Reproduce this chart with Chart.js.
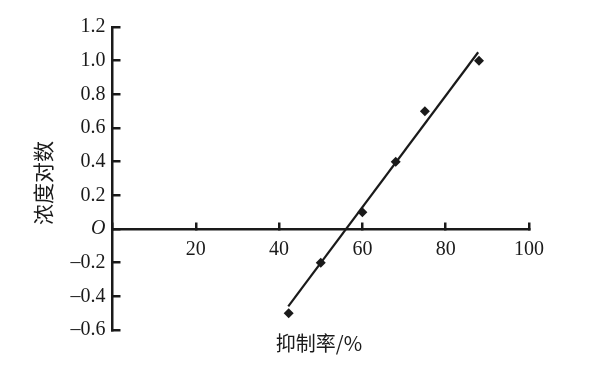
<!DOCTYPE html>
<html>
<head>
<meta charset="utf-8">
<script src="https://cdn.jsdelivr.net/npm/chart.js@4"></script>
<style>
  html, body { margin: 0; padding: 0; background: #fff; }
  #wrap { width: 601px; height: 383px; }
</style>
</head>
<body>
<div id="wrap"><canvas id="canvas" width="601" height="383"></canvas></div>
<script>
// values
const inhibition = [42.3, 50, 60, 68, 75, 88];      // 抑制率/%
const logConc = [-0.5, -0.2, 0.1, 0.4, 0.7, 1.0];    // 浓度对数
const fitX = [42.2, 87.8];                           // fitted line ends
const fitY = [-0.46, 1.05];
const xTitle = '抑制率/%';
const yTitle = '浓度对数';

const ink = '#1a1a1a';
const serif = '"Liberation Serif", "Times New Roman", serif';
const cjk = '"Noto Sans CJK SC", sans-serif';

const points = inhibition.map((x, i) => ({ x: x, y: logConc[i] }));
const fit = fitX.map((x, i) => ({ x: x, y: fitY[i] }));

// axis titles
const titles = {
    id: 'titles',
    afterDraw(chart) {
        const c = chart.ctx;
        c.save();
        c.fillStyle = ink;
        c.textAlign = 'center';
        c.textBaseline = 'middle';
        c.font = '20px ' + cjk;
        c.fillText(xTitle, 319, 343);
        c.font = '21px ' + cjk;
        c.translate(43, 183);
        c.rotate(-Math.PI / 2);
        c.fillText(yTitle, 0, 0);
        c.restore();
    }
};

const ctx = document.getElementById('canvas').getContext('2d');
new Chart(ctx, {
    type: 'scatter',
    data: {
        datasets: [{
            data: points,
            pointStyle: 'rectRot',
            pointRadius: 5,
            pointHoverRadius: 5,
            backgroundColor: ink,
            borderColor: ink,
            borderWidth: 0
        }, {
            data: fit,
            showLine: true,
            pointRadius: 0,
            borderColor: ink,
            borderWidth: 2.2
        }]
    },
    options: {
        responsive: false,
        animation: false,
        layout: { padding: { left: 0, right: 72, top: 27, bottom: 53 } },
        plugins: { legend: { display: false }, tooltip: { enabled: false } },
        scales: {
            x: {
                type: 'linear',
                position: { y: 0 },
                min: 0, max: 100,
                ticks: {
                    stepSize: 20,
                    padding: 17,
                    color: ink,
                    font: { family: serif, size: 20 },
                    callback: (v) => v === 0 ? '' : String(v)
                },
                grid: { drawOnChartArea: false, tickLength: -8, color: ink, lineWidth: 2.5 },
                border: { color: ink, width: 2.5 }
            },
            y: {
                type: 'linear',
                position: 'left',
                min: -0.6, max: 1.2,
                afterFit: (s) => { s.width = 112.5; },
                ticks: {
                    stepSize: 0.2,
                    padding: 15,
                    color: ink,
                    font: (c) => ({
                        family: serif, size: 20,
                        style: c.tick && Math.abs(c.tick.value) < 1e-9 ? 'italic' : 'normal'
                    }),
                    callback: (v) => {
                        if (Math.abs(v) < 1e-9) return 'O';
                        const s = Math.abs(v).toFixed(1);
                        return v < 0 ? '\u2013' + s : s;
                    }
                },
                grid: { drawOnChartArea: false, tickLength: -8, color: ink, lineWidth: 2.5 },
                border: { color: ink, width: 2.5 }
            }
        }
    },
    plugins: [titles]
});
</script>
</body>
</html>
